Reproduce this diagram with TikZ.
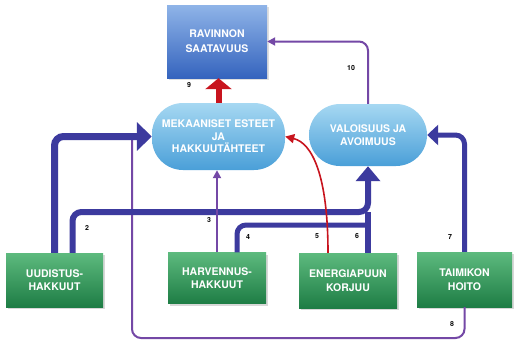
\documentclass[tikz,border=0pt]{standalone}
\usepackage{fontspec}
\setmainfont{TeX Gyre Heros}
\usetikzlibrary{arrows.meta,shadows,calc}
\definecolor{lineblue}{HTML}{3C3A9E}
\definecolor{linepurple}{HTML}{7448A6}
\definecolor{linered}{HTML}{C8141E}
\definecolor{gtop}{HTML}{5DBA7E}
\definecolor{gbot}{HTML}{1E7D45}
\definecolor{btop}{HTML}{8FB4E8}
\definecolor{bbot}{HTML}{3564BE}
\definecolor{ptop}{HTML}{A6D8F2}
\definecolor{pbot}{HTML}{4A9FD8}

\begin{document}
\begin{tikzpicture}[x=1pt,y=-1pt,
  lbl/.style={text=white, align=center, inner sep=0pt,
    font=\fontsize{10.5}{13.5}\selectfont\bfseries},
  actbox/.style={lbl, rectangle, top color=gtop, bottom color=gbot,
    drop shadow={shadow xshift=2pt, shadow yshift=-2pt, opacity=0.3}},
  goalbox/.style={lbl, rectangle, minimum width=100pt, minimum height=73pt,
    top color=btop, bottom color=bbot,
    drop shadow={shadow xshift=2pt, shadow yshift=-2pt, opacity=0.25},
    font=\fontsize{10.5}{15}\selectfont\bfseries},
  pill/.style={lbl, rectangle, rounded corners=31pt, top color=ptop, bottom color=pbot,
    font=\fontsize{10.5}{12.5}\selectfont\bfseries},
  num/.style={text=black, inner sep=0pt, font=\fontsize{7}{8}\selectfont\bfseries},
  thinarrow/.style={-{Triangle[width=8pt,length=8pt]}},
  conn/.style={rounded corners=9pt}
]
\fill[white] (0,0) rectangle (525,343);
\useasboundingbox (0,0) rectangle (525,343);

% target and effect nodes
\node[goalbox] (rav) at (217,41.5) {RAVINNON\\SAATAVUUS};
\node[pill, minimum width=133pt, minimum height=67pt] (mek) at (218.5,136.5)
  {MEKAANISET ESTEET\\JA\\HAKKUUTÄHTEET};
\node[pill, minimum width=118pt, minimum height=62pt] (valo) at (368,135)
  {VALOISUUS JA\\AVOIMUUS};

% forestry operations
\node[actbox, minimum width=97pt, minimum height=54pt] (uud) at (54.5,280) {UUDISTUS-\\HAKKUUT};
\node[actbox, minimum width=98pt, minimum height=51pt] (harv) at (217,278) {HARVENNUS-\\HAKKUUT};
\node[actbox, minimum width=98pt, minimum height=55pt] (ene) at (348,280.5) {ENERGIAPUUN\\KORJUU};
\node[actbox, minimum width=95pt, minimum height=55pt] (tai) at (464.5,279.5) {TAIMIKON\\HOITO};

% junctions
\coordinate (j2) at (368,212);
\coordinate (j4) at (368,225);
\coordinate (c8) at (132,338);
\coordinate (c8top) at (132,136.5);

% 8: tending back to the obstacles
\draw[linepurple, line width=2pt, conn] (tai.south) |- (c8) -- (c8top);

% 1: regeneration cuttings -> obstacles
\draw[lineblue, line width=7pt, conn, -{Triangle[width=28pt,length=15pt]}]
  (uud.north) |- (mek.west);

% 2: regeneration cuttings -> light
\draw[lineblue, line width=6pt, conn, -{Triangle[width=24pt,length=15pt]}]
  ([xshift=18pt]uud.north) |- (j2) -- (valo.south);

% 4: thinning -> light
\draw[lineblue, line width=5pt, conn] ([xshift=20pt]harv.north) |- (j4);

% 6: energy wood harvest -> light
\draw[lineblue, line width=6pt] ([xshift=20pt]ene.north) -- (j2);

% 3: thinning -> obstacles
\draw[linepurple, line width=2pt, thinarrow] (harv.north) -- (harv.north |- mek.south);

% 5: energy wood harvest -> obstacles
\draw[linered, line width=1.6pt, -{Triangle[width=9pt,length=9pt]}]
  ([xshift=-20pt]ene.north) .. controls (328,175) and (312,143) .. (mek.east);

% 7: tending -> light
\draw[lineblue, line width=5pt, conn, -{Triangle[width=20pt,length=11pt]}]
  (tai.north) |- (valo.east);

% 9: obstacles -> nutrients
\draw[linered, line width=6pt, -{Triangle[width=26pt,length=11pt]}]
  (mek.north) -- (mek.north |- rav.south);

% 10: light -> nutrients
\draw[linepurple, line width=2pt, conn, thinarrow] (valo.north) |- (rav.east);

% connector numbers
\node[num] (n2) at (87,228) {2};
\node[num] (n3) at (209,220) {3};
\node[num] (n4) at (248,237) {4};
\node[num] (n5) at (317,236) {5};
\node[num] (n6) at (357,236) {6};
\node[num] (n7) at (450,237) {7};
\node[num] (n8) at (452,324) {8};
\node[num] (n9) at (189,85) {9};
\node[num] (n10) at (351,68) {10};
\end{tikzpicture}
\end{document}
